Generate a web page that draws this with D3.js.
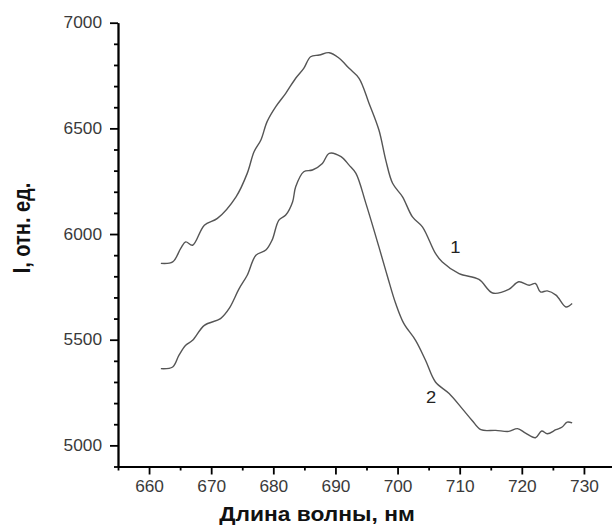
<!DOCTYPE html>
<html lang="ru">
<head>
<meta charset="UTF-8">
<title>Спектр</title>
<script src="https://d3js.org/d3.v7.min.js"></script>
<style>
    body { margin: 0; background: #fff; }
    svg { display: block; }
    .axis path, .axis line { stroke: #000; stroke-width: 1.8px; }
    .axis text { font-family: Arial, "Liberation Sans", sans-serif; font-size: 16px; fill: #3a3a3a; }
    .title { font-family: Arial, "Liberation Sans", sans-serif; font-weight: bold; font-size: 20px; fill: #111; }
    .curve { fill: none; stroke: #555; stroke-width: 1.4px; stroke-linejoin: round; }
    .tag { font-family: Arial, "Liberation Sans", sans-serif; font-size: 17px; fill: #222; }
</style>
</head>
<body>
<svg width="612" height="527"></svg>
<script>
// wavelength, nm
const nm1 = [661.9, 663.8, 665.1, 665.9, 667.0, 668.9, 671.0, 674.0, 675.8, 676.9, 678.0, 679.0, 680.4, 682.0, 683.6,
             684.9, 686.0, 687.4, 689.0, 690.6, 692.2, 693.8, 695.4, 697.0, 698.1, 699.2, 700.8, 702.4, 704.0, 706.1,
             707.2, 709.9, 713.1, 715.3, 717.9, 719.5, 721.2, 722.2, 723.0, 724.1, 725.5, 727.1, 728.1];
// curve 1 intensity
const int1 = [5861, 5868, 5932, 5963, 5947, 6042, 6074, 6176, 6287, 6389, 6445, 6532, 6603, 6666, 6737,
              6784, 6839, 6847, 6858, 6832, 6784, 6737, 6619, 6492, 6350, 6240, 6176, 6081, 6034, 5908,
              5868, 5813, 5785, 5721, 5738, 5774, 5758, 5766, 5726, 5731, 5711, 5655, 5671];

const nm2 = [661.9, 663.8, 664.8, 665.9, 667.0, 668.9, 671.5, 672.9, 674.5, 675.8, 677.2, 678.8, 679.8, 680.9, 682.0,
             683.1, 683.6, 684.9, 686.3, 687.9, 689.0, 690.9, 692.2, 693.3, 694.9, 697.0, 698.4, 699.7, 701.0, 702.9,
             704.5, 706.1, 708.3, 710.4, 712.0, 713.4, 715.8, 717.9, 719.3, 720.6, 722.2, 723.2, 724.1, 725.5, 726.5,
             727.3, 728.1];
// curve 2 intensity
const int2 = [5363, 5371, 5426, 5474, 5497, 5568, 5600, 5648, 5742, 5805, 5900, 5924, 5971, 6066, 6090,
              6152, 6224, 6295, 6303, 6334, 6382, 6366, 6326, 6287, 6145, 5939, 5797, 5671, 5577, 5497,
              5403, 5300, 5245, 5174, 5118, 5074, 5071, 5066, 5079, 5058, 5036, 5068, 5055, 5074, 5087,
              5110, 5106];

const xMajor = [660, 670, 680, 690, 700, 710, 720, 730];
const yMajor = [5000, 5500, 6000, 6500, 7000];
const curveTags = [{t: "1", x: 709.3, y: 5940}, {t: "2", x: 705.4, y: 5227}];

const svg = d3.select("svg");
const x = d3.scaleLinear().domain([655, 735]).range([118, 615]);
const y = d3.scaleLinear().domain([4900, 7000]).range([466.5, 22.7]);

const xMinor = d3.range(655, 735, 5).filter(v => !xMajor.includes(v));
const yMinor = d3.range(4900, 7000, 100).filter(v => !yMajor.includes(v));

const sx = 1.08; // labels in the picture are a bit wide

function stretch(sel) {
    sel.selectAll("text").each(function () {
        const t = d3.select(this);
        const tx = +t.attr("x") || 0, ty = +t.attr("y") || 0;
        t.attr("x", 0).attr("y", 0)
            .attr("transform", `translate(${tx},${ty}) scale(${sx},1)`);
    });
}

// minor ticks
svg.append("g").attr("class", "axis")
    .attr("transform", `translate(0,${y(4900)})`)
    .call(d3.axisBottom(x).tickValues(xMinor).tickSize(4).tickSizeOuter(0).tickFormat(""));
svg.append("g").attr("class", "axis")
    .attr("transform", `translate(${x(655)},0)`)
    .call(d3.axisLeft(y).tickValues(yMinor).tickSize(4).tickSizeOuter(0).tickFormat(""));

// major ticks + labels
const gx = svg.append("g").attr("class", "axis")
    .attr("transform", `translate(0,${y(4900)})`)
    .call(d3.axisBottom(x).tickValues(xMajor).tickSize(8).tickSizeOuter(0).tickPadding(6).tickFormat(d3.format("d")));
const gy = svg.append("g").attr("class", "axis")
    .attr("transform", `translate(${x(655)},0)`)
    .call(d3.axisLeft(y).tickValues(yMajor).tickSize(8).tickSizeOuter(0).tickPadding(8).tickFormat(d3.format("d")));
stretch(gx);
stretch(gy);

const line = d3.line().curve(d3.curveCatmullRom.alpha(0.5)).x(d => x(d[0])).y(d => y(d[1]));
svg.append("path").attr("class", "curve").attr("d", line(d3.zip(nm1, int1)));
svg.append("path").attr("class", "curve").attr("d", line(d3.zip(nm2, int2)));

svg.selectAll(".tag").data(curveTags).enter().append("text")
    .attr("class", "tag")
    .attr("text-anchor", "middle")
    .attr("dy", "0.35em")
    .attr("transform", d => `translate(${x(d.x)},${y(d.y)}) scale(${sx},1)`)
    .text(d => d.t);

svg.append("text").attr("class", "title")
    .attr("text-anchor", "middle")
    .attr("transform", `translate(317,521) scale(1.14,1)`)
    .text("Длина волны, нм");

svg.append("text").attr("class", "title")
    .attr("text-anchor", "middle")
    .attr("transform", `translate(30,228) scale(1.15,1) rotate(-90)`)
    .text("I, отн. ед.");
</script>
</body>
</html>
